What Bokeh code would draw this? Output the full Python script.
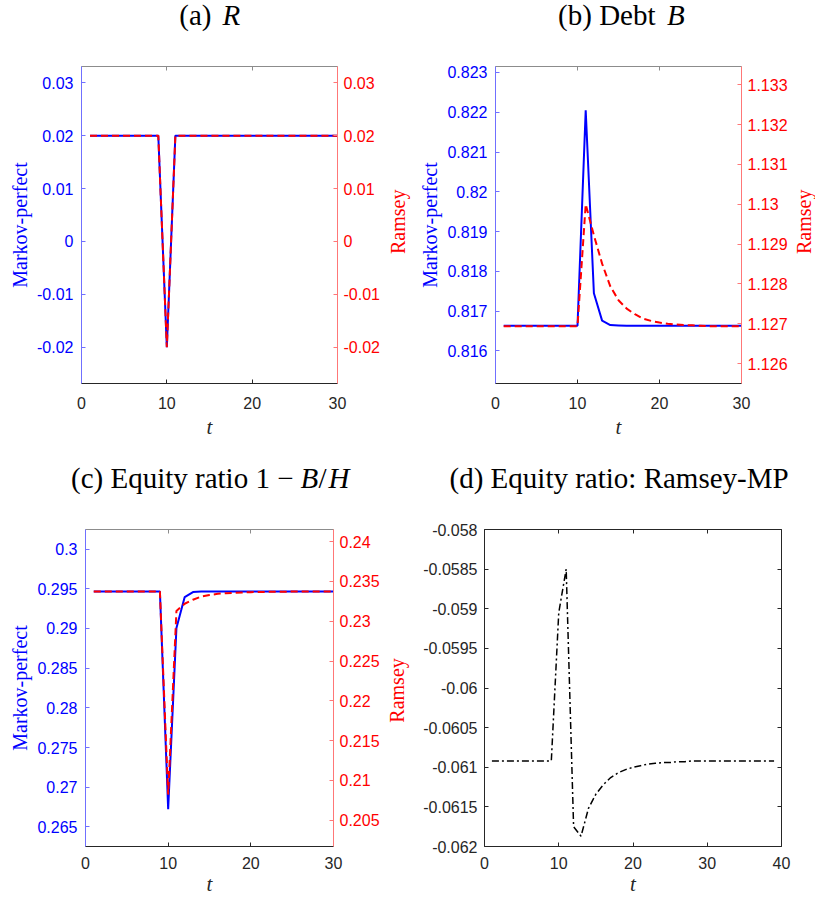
import math
from bokeh.plotting import figure
from bokeh.models import Range1d, LinearAxis, FixedTicker, CustomJSTickFormatter
from bokeh.layouts import column, row
from bokeh.core.properties import value
from bokeh.embed import file_html
from bokeh.resources import INLINE

# ---------------- data ----------------
t30 = [1, 2, 3, 4, 5, 6, 7, 8, 9, 10, 11, 12, 13, 14, 15, 16, 17, 18, 19, 20,
       21, 22, 23, 24, 25, 26, 27, 28, 29, 30]
t39 = [1, 2, 3, 4, 5, 6, 7, 8, 9, 10, 11, 12, 13, 14, 15, 16, 17, 18, 19, 20,
       21, 22, 23, 24, 25, 26, 27, 28, 29, 30, 31, 32, 33, 34, 35, 36, 37, 38, 39]

# (a) R
R_mp = [0.02, 0.02, 0.02, 0.02, 0.02, 0.02, 0.02, 0.02, 0.02, -0.02,
        0.02, 0.02, 0.02, 0.02, 0.02, 0.02, 0.02, 0.02, 0.02, 0.02,
        0.02, 0.02, 0.02, 0.02, 0.02, 0.02, 0.02, 0.02, 0.02, 0.02]
R_ram = [0.02, 0.02, 0.02, 0.02, 0.02, 0.02, 0.02, 0.02, 0.02, -0.02,
         0.02, 0.02, 0.02, 0.02, 0.02, 0.02, 0.02, 0.02, 0.02, 0.02,
         0.02, 0.02, 0.02, 0.02, 0.02, 0.02, 0.02, 0.02, 0.02, 0.02]

# (b) Debt B
B_mp = [0.81663, 0.81663, 0.81663, 0.81663, 0.81663, 0.81663, 0.81663, 0.81663, 0.81663, 0.81663,
        0.82205, 0.81745, 0.81676, 0.81665, 0.81664, 0.81663, 0.81663, 0.81663, 0.81663, 0.81663,
        0.81663, 0.81663, 0.81663, 0.81663, 0.81663, 0.81663, 0.81663, 0.81663, 0.81663, 0.81663]
B_ram = [1.12694, 1.12694, 1.12694, 1.12694, 1.12694, 1.12694, 1.12694, 1.12694, 1.12694, 1.12694,
         1.13000, 1.12922, 1.12851, 1.12794, 1.12759, 1.12738, 1.12724, 1.12713, 1.12707, 1.12703,
         1.12700, 1.12698, 1.12697, 1.12696, 1.12695, 1.12694, 1.12694, 1.12694, 1.12694, 1.12694]

# (c) Equity ratio 1 - B/H
E_mp = [0.29466, 0.29466, 0.29466, 0.29466, 0.29466, 0.29466, 0.29466, 0.29466, 0.29466, 0.26725,
        0.29007, 0.29395, 0.29458, 0.29465, 0.29466, 0.29466, 0.29466, 0.29466, 0.29466, 0.29466,
        0.29466, 0.29466, 0.29466, 0.29466, 0.29466, 0.29466, 0.29466, 0.29466, 0.29466, 0.29466]
E_ram = [0.23375, 0.23375, 0.23375, 0.23375, 0.23375, 0.23375, 0.23375, 0.23375, 0.23375, 0.20820,
         0.23130, 0.23220, 0.23271, 0.23310, 0.23330, 0.23345, 0.23353, 0.23358, 0.23362, 0.23366,
         0.23368, 0.23370, 0.23371, 0.23372, 0.23373, 0.23374, 0.23375, 0.23375, 0.23375, 0.23375]

# (d) Equity ratio: Ramsey - MP
D_diff = [-0.06092, -0.06092, -0.06092, -0.06092, -0.06092, -0.06092, -0.06092, -0.06092, -0.06092, -0.05905,
          -0.05850, -0.06175, -0.06187, -0.06152, -0.06134, -0.06122, -0.06113, -0.06107, -0.06103, -0.06100,
          -0.06098, -0.06096, -0.06095, -0.06094, -0.06094, -0.06093, -0.06093, -0.06092, -0.06092, -0.06092,
          -0.06092, -0.06092, -0.06092, -0.06092, -0.06092, -0.06092, -0.06092, -0.06092, -0.06092]

# tick positions
x_ticks30 = [0, 10, 20, 30]
x_ticks40 = [0, 10, 20, 30, 40]
a_ticks = [-0.02, -0.01, 0, 0.01, 0.02, 0.03]
b_left_ticks = [0.816, 0.817, 0.818, 0.819, 0.82, 0.821, 0.822, 0.823]
b_right_ticks = [1.126, 1.127, 1.128, 1.129, 1.13, 1.131, 1.132, 1.133]
c_left_ticks = [0.265, 0.27, 0.275, 0.28, 0.285, 0.29, 0.295, 0.3]
c_right_ticks = [0.205, 0.21, 0.215, 0.22, 0.225, 0.23, 0.235, 0.24]
d_ticks = [-0.062, -0.0615, -0.061, -0.0605, -0.06, -0.0595, -0.059, -0.0585, -0.058]

# ---------------- styling ----------------
BLUE = "#0000ff"
RED = "#ff0000"
BLUE_AX = "#7070ff"
RED_AX = "#ff7777"
DARK = "#262626"
GRAY = "#8c8c8c"
TICK_FONT = "Liberation Sans"
SERIF = "Liberation Serif"
TITLE_PX = 29
YLAB_PX = 20
T_PX = 21
BASE_SHIFT = 0.36   # empirical: alphabetic baseline drawn this many ems below the anchor
VERT_SHIFT = 17.5   # empirical: rotated centred text drawn this far above its anchor


def fmt():
    return CustomJSTickFormatter(code="return Number(tick.toPrecision(6)).toString();")


def blank():
    return CustomJSTickFormatter(code="return '';")


def style_axis(ax, ticks, line_color, label_color, standoff, show_labels=True):
    ax.ticker = FixedTicker(ticks=ticks)
    ax.formatter = fmt() if show_labels else blank()
    ax.axis_line_color = line_color
    ax.major_tick_line_color = line_color
    ax.major_tick_in = 4
    ax.major_tick_out = 0
    ax.minor_tick_line_color = None
    ax.major_label_text_color = label_color
    ax.major_label_text_font = TICK_FONT
    ax.major_label_text_font_size = "16px" if show_labels else "1px"
    ax.major_label_standoff = standoff


def axis_title(ax, text, color, px, style, standoff):
    ax.axis_label = text
    ax.axis_label_text_color = color
    ax.axis_label_text_font = SERIF
    ax.axis_label_text_font_size = f"{px}px"
    ax.axis_label_text_font_style = style
    ax.axis_label_standoff = standoff


def make_fig(w, h, left, right, top, bottom, xr, yr):
    p = figure(width=w, height=h, output_backend="svg", toolbar_location=None, tools="",
               title=None, x_range=Range1d(*xr), y_range=Range1d(*yr),
               min_border_left=left, min_border_right=right,
               min_border_top=top, min_border_bottom=bottom)
    p.xgrid.visible = False
    p.ygrid.visible = False
    p.outline_line_color = None
    p.background_fill_color = "white"
    p.border_fill_color = "white"
    return p


def strip(w, h):
    """Blank canvas whose frame is the whole canvas; holds titles and labels."""
    p = figure(width=w, height=h, output_backend="svg", toolbar_location=None, tools="",
               title=None, x_range=Range1d(0, w), y_range=Range1d(0, h),
               x_axis_type=None, y_axis_type=None, min_border=0)
    p.outline_line_color = None
    p.background_fill_color = "white"
    p.border_fill_color = "white"
    return p


def put_text(p, x, base_from_top, text, px, style="normal", align="left", color="black"):
    y = p.height - base_from_top + BASE_SHIFT * px
    p.text(x=[x], y=[y], text=[text], text_font=value(SERIF), text_font_size=value(f"{px}px"),
           text_font_style=value(style), text_align=value(align),
           text_baseline=value("alphabetic"), text_color=color)


def put_vertical(p, x, center_from_top, text, px, color):
    y = p.height - center_from_top - VERT_SHIFT
    p.text(x=[x], y=[y], text=[text], text_font=value(SERIF), text_font_size=value(f"{px}px"),
           text_align=value("center"), text_baseline=value("middle"),
           angle=math.pi / 2, text_color=color)


def dual_panel(w, h, left, right, top, bottom, xr, xt, yl, ylt, yr, yrt, t, mp, ram,
               ls_l, x_standoff, t_standoff):
    p = make_fig(w, h, left, right, top, bottom, xr, yl)
    p.extra_y_ranges = {"r": Range1d(*yr)}
    style_axis(p.xaxis[0], xt, DARK, DARK, x_standoff)
    axis_title(p.xaxis[0], "t", DARK, T_PX, "italic", t_standoff)
    style_axis(p.yaxis[0], ylt, BLUE_AX, BLUE, 8)
    axis_title(p.yaxis[0], "Markov-perfect", BLUE, YLAB_PX, "normal", ls_l)
    ax_r = LinearAxis(y_range_name="r")
    style_axis(ax_r, yrt, RED_AX, RED, 6)
    p.add_layout(ax_r, "right")
    ax_t = LinearAxis()
    style_axis(ax_t, xt, GRAY, GRAY, 0, show_labels=False)
    p.add_layout(ax_t, "above")
    p.line(t, mp, line_color=BLUE, line_width=2)
    p.line(t, ram, line_color=RED, line_width=2, line_dash="7 4", y_range_name="r")
    return p


# ---------------- row 1: titles (page y 0-46) ----------------
ta = strip(411, 46)
put_text(ta, 211, 25, "(a)", TITLE_PX, align="right")
put_text(ta, 222, 25, "R", TITLE_PX, style="italic")
tb = strip(404, 46)
put_text(tb, 244, 25, "(b) Debt", TITLE_PX, align="right")
put_text(tb, 255.5, 25, "B", TITLE_PX, style="italic")

# ---------------- row 2: panels a, b (page y 46-446) ----------------
pa = dual_panel(387, 400, 81, 50, 20, 62, (0, 30), x_ticks30,
                (-0.02684, 0.03307), a_ticks, (-0.02684, 0.03307), a_ticks,
                t30, R_mp, R_ram, 3, 13, 3)
ra = strip(24, 400)
put_vertical(ra, 10.5, 178.5, "Ramsey", YLAB_PX, RED)
pb = dual_panel(379, 400, 84, 47, 20, 63, (0, 30), x_ticks30,
                (0.81518, 0.82315), b_left_ticks, (1.12550, 1.13346), b_right_ticks,
                t30, B_mp, B_ram, 3, 13, 3)
rb = strip(25, 400)
put_vertical(rb, 13.5, 178.5, "Ramsey", YLAB_PX, RED)

# ---------------- row 3: titles (page y 446-509) ----------------
tc = strip(411, 63)
put_text(tc, 293, 42, "(c) Equity ratio 1 \u2212", TITLE_PX, align="right")
put_text(tc, 300, 42, "B", TITLE_PX, style="italic")
put_text(tc, 318, 42, "/", TITLE_PX)
put_text(tc, 328, 42, "H", TITLE_PX, style="italic")
td = strip(404, 63)
put_text(td, 207.6, 42, "(d) Equity ratio: Ramsey-MP", TITLE_PX, align="center")

# ---------------- row 4: panels c, d (page y 509-898) ----------------
pc = dual_panel(387, 389, 85, 54, 20, 52, (0, 30), x_ticks30,
                (0.26254, 0.30246), c_left_ticks, (0.20167, 0.24154), c_right_ticks,
                t30, E_mp, E_ram, 3, 10, 0)
rc = strip(24, 389)
put_vertical(rc, 9.5, 180, "Ramsey", YLAB_PX, RED)

pd_ = make_fig(404, 389, 73, 34, 20, 52, (0, 40), (-0.062, -0.058))
style_axis(pd_.xaxis[0], x_ticks40, DARK, DARK, 10)
axis_title(pd_.xaxis[0], "t", DARK, T_PX, "italic", 0)
style_axis(pd_.yaxis[0], d_ticks, DARK, DARK, 7)
ax_dr = LinearAxis()
style_axis(ax_dr, d_ticks, DARK, DARK, 0, show_labels=False)
pd_.add_layout(ax_dr, "right")
ax_dt = LinearAxis()
style_axis(ax_dt, x_ticks40, DARK, DARK, 0, show_labels=False)
pd_.add_layout(ax_dt, "above")
pd_.line(t39, D_diff, line_color="black", line_width=1.5, line_dash="7 3 2 3")

layout = column(row(ta, tb), row(pa, ra, pb, rb), row(tc, td), row(pc, rc, pd_))

open("out.html", "w").write(file_html(layout, INLINE))
